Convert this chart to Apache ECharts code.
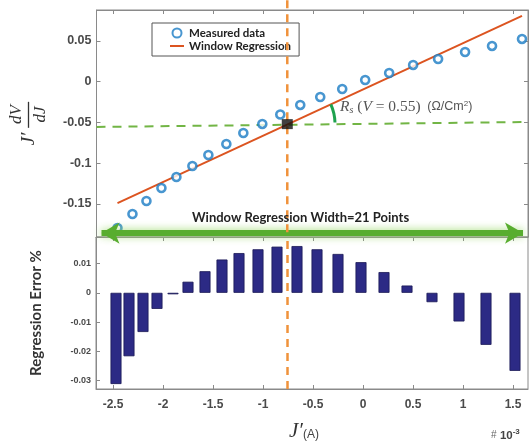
<!DOCTYPE html>
<html><head><meta charset="utf-8">
<script src="https://cdn.jsdelivr.net/npm/echarts@6/dist/echarts.min.js"></script>
<style>html,body{margin:0;padding:0;background:#fff}#c{width:529px;height:443px}</style>
</head><body><div id="c"></div>
<script>
// ---- data ----
const pointX = [-2.46,-2.31,-2.17,-2.02,-1.87,-1.71,-1.55,-1.37,-1.20,-1.01,-0.83,-0.63,-0.43,-0.21,0.02,0.26,0.50,0.75,1.02,1.29,1.59];
const pointY = [-0.1795,-0.1623,-0.1463,-0.1304,-0.1169,-0.1034,-0.0899,-0.0764,-0.0629,-0.0518,-0.0402,-0.0285,-0.0187,-0.0089,0.0021,0.0107,0.0206,0.0279,0.0365,0.0439,0.0525];
const regX = [-2.46, 1.59];
const regY = [-0.149, 0.0807];
const barX = [-2.47,-2.34,-2.20,-2.06,-1.90,-1.75,-1.58,-1.41,-1.24,-1.05,-0.86,-0.66,-0.46,-0.25,-0.02,0.21,0.44,0.69,0.96,1.23,1.52];
const barErr = [-0.0312,-0.0217,-0.0134,-0.0055,-0.0005,0.0038,0.0074,0.0114,0.0136,0.0149,0.0158,0.0160,0.0149,0.0133,0.0105,0.0071,0.0025,-0.0032,-0.0098,-0.0178,-0.0267];
const centerJ = -0.76;
const centerVal = -0.052;
const tangentX = [-2.67, 1.65];
const tangentY = [-0.0555, -0.0494];
const xTicks = [-2.5,-2,-1.5,-1,-0.5,0,0.5,1,1.5];
const topYTicks = [-0.15,-0.1,-0.05,0,0.05];
const botYTicks = [-0.03,-0.02,-0.01,0,0.01];
const xRange = [-2.67, 1.65];
const topYRange = [-0.1905, 0.088];
const botYRange = [-0.0329, 0.0191];
const arrowY = -0.1857;

// ---- chart ----
const chart = echarts.init(document.getElementById('c'));
const axisCol = '#8a8a8a';
const lblStyle = {color:'#4a4a4a', fontWeight:'bold', fontFamily:'Liberation Sans', fontSize:12};
const zip = (a,b) => a.map((v,i)=>[v,b[i]]);

function xAxisDef(grid, pos, labels){
  return {type:'value', gridIndex:grid, position:pos, min:xRange[0], max:xRange[1],
    axisLine:{show:true, onZero:false, lineStyle:{color:axisCol}},
    axisTick:{show:true, inside:true, length:4, customValues:xTicks, lineStyle:{color:axisCol}},
    axisLabel:{show:labels, customValues:xTicks, margin:10, ...lblStyle},
    splitLine:{show:false}};
}
function yAxisDef(grid, pos, range, ticks, labels, fs){
  return {type:'value', gridIndex:grid, position:pos, min:range[0], max:range[1],
    axisLine:{show:true, onZero:false, lineStyle:{color:axisCol}},
    axisTick:{show:true, inside:true, length:4, customValues:ticks, lineStyle:{color:axisCol}},
    axisLabel:{show:labels, customValues:ticks, margin:5, ...lblStyle, fontSize:fs},
    splitLine:{show:false}};
}

const xAx = [xAxisDef(0,'top',false), xAxisDef(1,'bottom',true), xAxisDef(1,'top',false)];
xAx[1].name = '{j|J′}{a|(A)}';
xAx[1].nameLocation = 'middle';
xAx[1].nameGap = 32;
xAx[1].nameTextStyle = {padding:[0,16,0,0], rich:{
  j:{fontFamily:'Liberation Serif', fontStyle:'italic', fontSize:21, color:'#333'},
  a:{fontFamily:'Liberation Sans', fontSize:12, color:'#444', padding:[6,0,0,0]}}};

const yAx = [yAxisDef(0,'left',topYRange,topYTicks,true,12.5),
             yAxisDef(1,'left',botYRange,botYTicks,true,9),
             yAxisDef(0,'right',topYRange,topYTicks,false,12)];
yAx[0].name = '{n|dV}\n{j|J′ }{b|}\n{n|dJ}';
yAx[0].nameLocation = 'middle';
yAx[0].nameGap = 47;
yAx[0].nameTextStyle = {align:'center', rich:{
  n:{fontFamily:'Liberation Serif', fontStyle:'italic', fontSize:17, color:'#333', lineHeight:18, padding:[0,0,0,18]},
  j:{fontFamily:'Liberation Serif', fontStyle:'italic', fontSize:19, color:'#333', lineHeight:6},
  b:{width:26, height:1.3, backgroundColor:'#333'}}};
yAx[1].name = 'Regression Error %';
yAx[1].nameLocation = 'middle';
yAx[1].nameGap = 52;
yAx[1].nameTextStyle = {fontFamily:'Lato', fontWeight:'bold', fontSize:15, color:'#333'};

const option = {
  animation:false,
  backgroundColor:'#fff',
  grid:[
    {left:96, right:1, top:10, height:227, show:true, borderColor:axisCol, borderWidth:1},
    {left:96, right:1, top:237, height:158, show:true, borderColor:axisCol, borderWidth:1}
  ],
  xAxis:xAx,
  yAxis:yAx,
  legend:{
    left:152, top:23, orient:'vertical', itemGap:1, itemWidth:14, itemHeight:9,
    padding:[4,8,4,17], borderColor:'#555', borderWidth:1, backgroundColor:'transparent',
    textStyle:{fontFamily:'Lato', fontWeight:'bold', fontSize:11.5, color:'#222'},
    data:[{name:'Measured data'},{name:'Window Regression', itemStyle:{opacity:0}}]
  },
  series:[
    {name:'tangent', type:'line', xAxisIndex:0, yAxisIndex:0, data:zip(tangentX,tangentY), symbol:'none',
      lineStyle:{color:'#72b545', width:2, type:[9,7]}, z:2,
      markLine:{silent:true, symbol:['arrow','arrow'], symbolSize:[16,18],
        lineStyle:{color:'#58ad2f', width:6, type:'solid', shadowColor:'rgba(150,215,100,0.9)', shadowBlur:8},
        label:{show:false},
        data:[[{coord:[xRange[0]+0.05, arrowY]},{coord:[xRange[1]-0.05, arrowY]}]]}},
    {name:'Window Regression', type:'line', xAxisIndex:0, yAxisIndex:0, data:zip(regX,regY), symbol:'none',
      itemStyle:{color:'#dc5420'}, lineStyle:{color:'#dc5420', width:2}, z:3},
    {name:'Measured data', type:'scatter', xAxisIndex:0, yAxisIndex:0, data:zip(pointX,pointY),
      symbol:'circle', symbolSize:8, itemStyle:{color:'#ffffff', borderColor:'#1a7cc4', borderWidth:2.6}, z:4},
    {name:'center', type:'scatter', xAxisIndex:0, yAxisIndex:0, data:[[centerJ,centerVal]],
      symbol:'rect', symbolSize:[11,10], itemStyle:{color:'#111'}, z:6},
    {name:'vline', type:'line', xAxisIndex:0, yAxisIndex:0, clip:false,
      data:[[centerJ, 0.1],[centerJ, topYRange[0]]], symbol:'none',
      lineStyle:{color:'#f0923b', width:2.5, type:[8,6]}, z:5},
    {name:'err', type:'bar', xAxisIndex:1, yAxisIndex:1, data:zip(barX,barErr), barWidth:11,
      itemStyle:{color:'#2c2a85', borderColor:'#1a1955', borderWidth:0.8}, z:2,
      markLine:{silent:true, symbol:'none', label:{show:false},
        lineStyle:{color:'#f0923b', width:2.5, type:[8,6]},
        data:[{xAxis:centerJ}]}}
  ],
  graphic:[
    {type:'text', left:192, top:211, z:10,
      style:{text:'Window Regression Width=21 Points', fontFamily:'Lato', fontWeight:'bold', fontSize:13, fill:'#222'}},
    {type:'arc', shape:{cx:287, cy:124, r:48, startAngle:-0.42, endAngle:-0.03}, z:10,
      style:{stroke:'#1ea24e', lineWidth:3, fill:null}},
    {type:'text', left:340, top:99, z:10,
      style:{text:'{r|R}{s|s}{t| (}{v|V}{t| = 0.55)}  {u|(Ω/Cm}{p|2}{u|)}', rich:{
        r:{fontFamily:'Liberation Serif', fontStyle:'italic', fontSize:15.5, fill:'#555'},
        s:{fontFamily:'Liberation Serif', fontStyle:'italic', fontSize:10, fill:'#555', padding:[7,0,0,0]},
        t:{fontFamily:'Liberation Serif', fontSize:15.5, fill:'#555'},
        v:{fontFamily:'Liberation Serif', fontStyle:'italic', fontSize:15.5, fill:'#555'},
        u:{fontFamily:'Liberation Sans', fontSize:12.5, fill:'#555'},
        p:{fontFamily:'Liberation Sans', fontSize:8, fill:'#555', padding:[0,0,7,0]}}}},
    {type:'text', left:491, top:428, z:10,
      style:{text:'{h|#} {m|10}{e|-3}', rich:{
        h:{fontFamily:'Liberation Sans', fontSize:10, fill:'#666'},
        m:{fontFamily:'Liberation Sans', fontWeight:'bold', fontSize:11.5, fill:'#444'},
        e:{fontFamily:'Liberation Sans', fontWeight:'bold', fontSize:8, fill:'#444', padding:[0,0,7,0]}}}}
  ]
};
chart.setOption(option);
</script></body></html>
